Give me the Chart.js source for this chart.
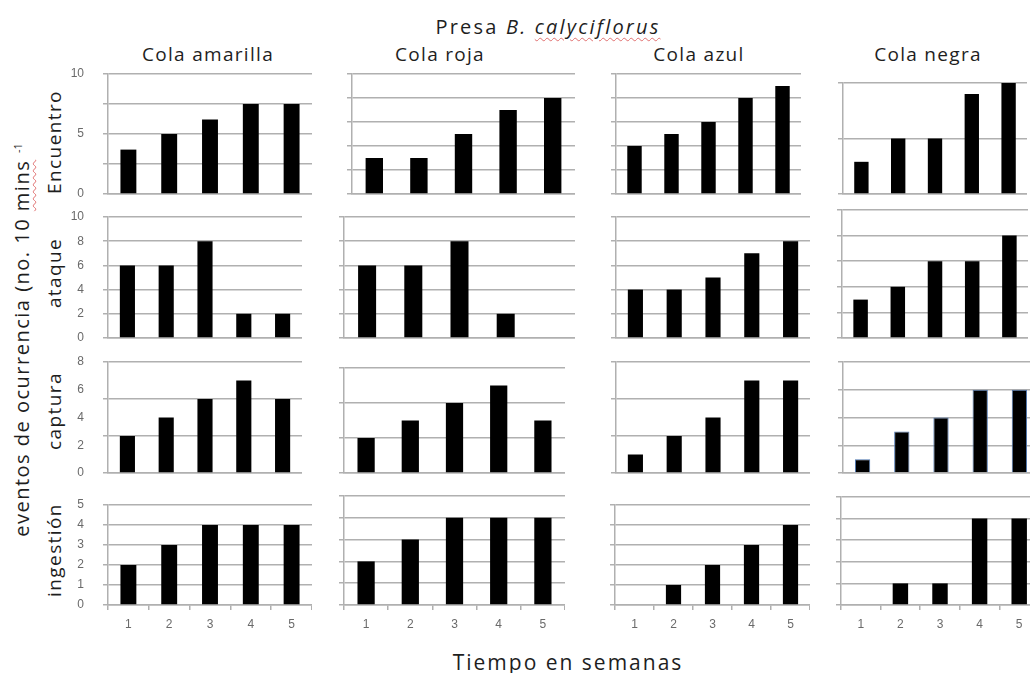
<!DOCTYPE html>
<html lang="es">
<head>
<meta charset="utf-8">
<title>Presa B. calyciflorus</title>
<script src="https://cdn.jsdelivr.net/npm/chart.js@4.4.1/dist/chart.umd.min.js"></script>
<style>
  html, body { margin: 0; padding: 0; background: #fff; }
  #lienzo { position: relative; width: 1030px; height: 673px; overflow: hidden; font-family: 'Open Sans', sans-serif; color: #1e1e1e; }
  #lienzo canvas { position: absolute; }
  .txt { position: absolute; transform: translate(-50%, -50%); white-space: nowrap; line-height: 1; }
  .rot { transform: translate(-50%, -50%) rotate(-90deg); }
  .spell { text-decoration: underline wavy #e07070; text-decoration-thickness: 1px; text-underline-offset: 3px; }
  sup { font-size: 11px; letter-spacing: 0; }
</style>
</head>
<body>
<div id="lienzo">
  <div class="txt" style="left:548px;top:27px;font-size:20px;letter-spacing:2.2px">Presa <i>B. <span class="spell">calyciflorus</span></i></div>
  <div class="txt rot" style="left:22px;top:340px;font-size:20px;letter-spacing:1.5px">eventos de ocurrencia (no. 10 <span class="spell">mins</span> <sup>-1</sup></div>
  <div class="txt" style="left:568px;top:662px;font-size:21px;letter-spacing:2px">Tiempo en semanas</div>
</div>
<script>
// semanas 1..5, una columna por color de cola, una fila por evento
const semanas = ['1', '2', '3', '4', '5'];
const colas = ['Cola amarilla', 'Cola roja', 'Cola azul', 'Cola negra'];
const eventos = ['Encuentro', 'ataque', 'captura', 'ingestión'];

// valores: [amarilla, roja, azul, negra]
const encuentro = [[3.7, 5, 6.2, 7.5, 7.5], [3, 3, 5, 7, 8], [4, 5, 6, 8, 9], [2.9, 5, 5, 9, 10]];
const ataque    = [[6, 6, 8, 2, 2], [6, 6, 8, 2, 0], [4, 4, 5, 7, 8], [3, 4, 6, 6, 8]];
const captura   = [[2, 3, 4, 5, 4], [2, 3, 4, 5, 3], [1, 2, 3, 5, 5], [1, 3, 4, 6, 6]];
const ingestion = [[2, 3, 4, 4, 4], [2, 3, 4, 4, 4], [0, 1, 2, 3, 4], [0, 1, 1, 4, 4]];

// escala de cada panel (máximo y separación de las líneas de la rejilla)
const ejeMax  = [[10, 10, 10, 10], [10, 10, 10, 10], [6, 6, 6, 8], [5, 5, 5, 5]];
const ejePaso = [[2.5, 2, 2, 5], [2, 2, 2, 2], [2, 2, 2, 2], [1, 1, 1, 1]];
// números impresos a la izquierda de la primera columna
const marcasY = [[0, 5, 10], [0, 2, 4, 6, 8, 10], [0, 2, 4, 6, 8], [0, 1, 2, 3, 4, 5]];

const filas = [encuentro, ataque, captura, ingestion];

// --- maquetación (px en la página) ---
// área de trazado de cada panel: [izq, der, arriba, abajo]
const cajas = [
  [[108, 312, 74, 194], [352, 575, 74, 194], [616, 801, 74, 194], [843, 1027, 83, 194]],
  [[108, 302, 217, 338], [344, 575, 217, 338], [616, 810, 217, 338], [842, 1028, 210, 338]],
  [[108, 302, 362, 473], [344, 565, 368, 473], [616, 810, 362, 473], [843, 1039, 362, 473]],
  [[108, 312, 505, 605], [344, 565, 496, 605], [615, 810, 505, 605], [841, 1039, 497, 605]],
];
const tituloX = [208, 440, 699, 928];
const filaY = [142, 273, 411, 550];

const GRIS = '#b0b0b0';
const TEXTO_EJE = '#6a6a6a';
const TICK = 5, ANCHO_MARCAS = 48, PAD_ARRIBA = 8;

const lienzo = document.getElementById('lienzo');

colas.forEach((t, c) => {
  const d = document.createElement('div');
  d.className = 'txt';
  d.style.cssText = `left:${tituloX[c]}px;top:54px;font-size:19px;letter-spacing:1.3px`;
  d.textContent = t;
  lienzo.appendChild(d);
});
eventos.forEach((t, r) => {
  const d = document.createElement('div');
  d.className = 'txt rot';
  d.style.cssText = `left:54px;top:${filaY[r]}px;font-size:19px;letter-spacing:1.4px`;
  d.textContent = t;
  lienzo.appendChild(d);
});

const sinPadding = (s) => { s.paddingTop = 0; s.paddingBottom = 0; s.paddingLeft = 0; s.paddingRight = 0; };

function panel(r, c) {
  const [l, rt, t, b] = cajas[r][c];
  const numeros = c === 0;
  const ultima = r === filas.length - 1;
  const altoX = ultima ? 30 : 1;
  const padAbajo = ultima ? 0 : 7;
  const izq = TICK + (numeros ? ANCHO_MARCAS : 0);

  const cv = document.createElement('canvas');
  cv.width = rt - l + izq;
  cv.height = PAD_ARRIBA + (b - t) + altoX + padAbajo;
  cv.style.left = (l - izq) + 'px';
  cv.style.top = (t - PAD_ARRIBA) + 'px';
  lienzo.appendChild(cv);

  const scales = {
    x: {
      type: 'category',
      offset: true,
      grid: { display: ultima, drawOnChartArea: false, drawTicks: true, tickLength: TICK, offset: true, color: GRIS, lineWidth: 1.5 },
      border: { display: true, color: GRIS, width: 1.5 },
      ticks: { display: ultima, color: TEXTO_EJE, padding: 7, font: { family: 'Liberation Sans', size: 12 } },
      afterFit: (s) => { s.height = altoX; sinPadding(s); },
    },
    y: {
      type: 'linear', position: 'left', weight: 0,
      min: 0, max: ejeMax[r][c],
      ticks: { display: false, stepSize: ejePaso[r][c] },
      grid: { color: GRIS, lineWidth: 1.5, drawTicks: true, tickLength: TICK },
      border: { display: true, color: GRIS, width: 1.5 },
      afterFit: (s) => { s.width = TICK; sinPadding(s); },
    },
  };
  if (numeros) {
    const m = marcasY[r];
    scales.marcas = {
      type: 'linear', position: 'left', weight: 1,
      min: m[0], max: m[m.length - 1],
      ticks: { stepSize: m[1] - m[0], color: TEXTO_EJE, padding: 11, font: { family: 'Liberation Sans', size: 12 } },
      grid: { display: false },
      border: { display: false },
      afterFit: (s) => { s.width = ANCHO_MARCAS; sinPadding(s); },
    };
  }

  const contorno = r === 2 && c === 3;
  new Chart(cv, {
    type: 'bar',
    data: {
      labels: semanas,
      datasets: [{
        data: filas[r][c],
        yAxisID: 'y',
        backgroundColor: '#000',
        borderColor: '#4f77b0',
        borderWidth: contorno ? 1 : 0,
        barPercentage: 0.39,
        categoryPercentage: 1,
      }],
    },
    options: {
      responsive: false, animation: false, devicePixelRatio: 1, events: [],
      layout: { padding: { top: PAD_ARRIBA, bottom: padAbajo, left: 0, right: 0 } },
      plugins: { legend: { display: false }, tooltip: { enabled: false } },
      scales,
    },
  });
}

for (let r = 0; r < filas.length; r++) {
  for (let c = 0; c < colas.length; c++) panel(r, c);
}
</script>
</body>
</html>
